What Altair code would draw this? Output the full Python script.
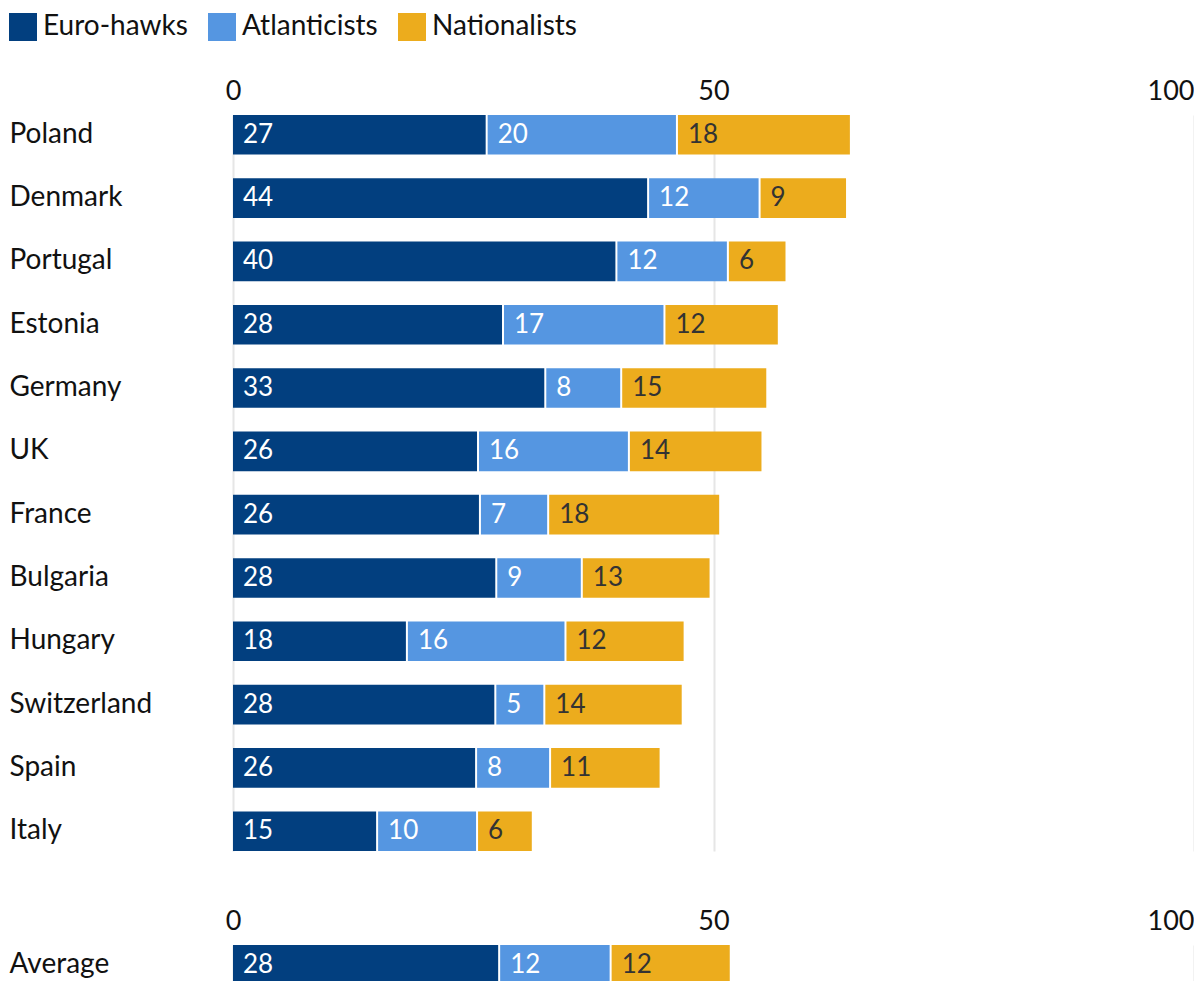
import altair as alt
import pandas as pd

countries = ["Poland", "Denmark", "Portugal", "Estonia", "Germany", "UK",
             "France", "Bulgaria", "Hungary", "Switzerland", "Spain", "Italy"]
euro_hawks = [26.5, 43.3, 40.0, 28.2, 32.6, 25.6, 25.8, 27.5, 18.2, 27.4, 25.4, 15.1]
atlanticists = [19.8, 11.6, 11.6, 16.8, 7.9, 15.7, 7.1, 8.9, 16.5, 5.1, 7.7, 10.4]
nationalists = [18.1, 9.1, 6.1, 11.9, 15.2, 13.9, 17.9, 13.4, 12.4, 14.4, 11.5, 5.8]
euro_labels = [27, 44, 40, 28, 33, 26, 26, 28, 18, 28, 26, 15]
atl_labels = [20, 12, 12, 17, 8, 16, 7, 9, 16, 5, 8, 10]
nat_labels = [18, 9, 6, 12, 15, 14, 18, 13, 12, 14, 11, 6]

avg_countries = ["Average"]
avg_euro = [27.8]
avg_atl = [11.6]
avg_nat = [12.5]
avg_euro_labels = [28]
avg_atl_labels = [12]
avg_nat_labels = [12]

groups = ["Euro-hawks", "Atlanticists", "Nationalists"]
colors = ["#023f7f", "#5596e1", "#ecac1d"]
axis_ticks = [0, 50, 100]

FONT = "Lato"


def build(cs, e, a, n, el, al, nl):
    rows = []
    for i, c in enumerate(cs):
        for k, (vals, labs) in enumerate([(e, el), (a, al), (n, nl)]):
            rows.append({"country": c, "group": groups[k], "order": k,
                         "value": vals[i], "label": str(labs[i])})
    return pd.DataFrame(rows)


df_main = build(countries, euro_hawks, atlanticists, nationalists,
                euro_labels, atl_labels, nat_labels)
df_avg = build(avg_countries, avg_euro, avg_atl, avg_nat,
               avg_euro_labels, avg_atl_labels, avg_nat_labels)


def panel(df, order, height, pad_inner, show_legend):
    xaxis = alt.Axis(
        orient="top", values=axis_ticks, title=None, ticks=False, domain=False,
        labelFont=FONT, labelFontSize=27, labelColor="#111111", labelPadding=10,
        labelFlush=False,
        labelAlign={"condition": {"test": "datum.value == 100", "value": "right"},
                    "value": "center"},
        grid=True, gridColor="#e6e6e6", gridWidth=2,
    )
    yaxis = alt.Axis(
        title=None, ticks=False, domain=False, labelAlign="left",
        labelPadding=224, labelFont=FONT, labelFontSize=28, labelColor="#111111",
        labelLimit=300,
    )
    if show_legend:
        legend = alt.Legend(
            orient="none", legendX=-224, legendY=-102, direction="horizontal",
            title=None, symbolType="square", symbolSize=784, symbolStrokeWidth=0,
            symbolOpacity=1, labelFont=FONT, labelFontSize=28, labelColor="#111111",
            labelOffset=6, columnPadding=20, padding=0, labelLimit=400,
        )
    else:
        legend = None
    base = alt.Chart(df).transform_stack(
        stack="value", as_=["x0", "x1"], groupby=["country"],
        sort=[alt.SortField("order", order="ascending")],
    )
    y = alt.Y("country:N", sort=order,
              scale=alt.Scale(paddingInner=pad_inner, paddingOuter=0), axis=yaxis)
    bars = base.mark_bar(x2Offset=-2).encode(
        x=alt.X("x0:Q", scale=alt.Scale(domain=[0, 100], nice=False), axis=xaxis),
        x2="x1:Q",
        y=y,
        color=alt.Color("group:N", scale=alt.Scale(domain=groups, range=colors),
                        legend=legend),
    )
    text = base.mark_text(align="left", baseline="middle", dx=10, font=FONT,
                          fontSize=26).encode(
        x="x0:Q",
        y=alt.Y("country:N", sort=order),
        text="label:N",
        color=alt.condition("datum.group == 'Nationalists'",
                            alt.value("#333333"), alt.value("#ffffff")),
    )
    return alt.layer(bars, text).properties(width=961, height=height)


top = panel(df_main, countries, 736, 0.3745, True)
bottom = panel(df_avg, avg_countries, 40, 0, False)

chart = alt.vconcat(top, bottom, spacing=56).resolve_scale(
    color="independent").resolve_legend(color="independent").properties(
    padding={"left": 1, "top": 5, "right": 0, "bottom": 0},
    background="white",
).configure_view(stroke="transparent", strokeWidth=0)

chart.save("out.html", embed_options={"renderer": "svg", "actions": False})
